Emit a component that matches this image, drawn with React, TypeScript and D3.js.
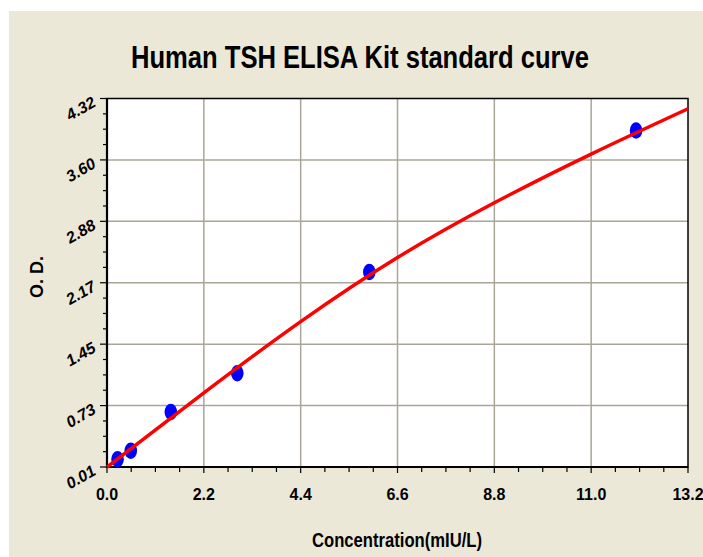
import { useEffect, useRef } from 'react';
import * as d3 from 'd3';

// standards
const concentrations = [0.24, 0.54, 1.45, 2.96, 5.96, 12.02];
const odValues = [0.1, 0.2, 0.654, 1.107, 2.29, 3.945];

// fitted curve, read at the vertical gridlines
const curveX = [0, 2.2, 4.4, 6.6, 8.8, 11.0, 13.2];
const curveY = [0.01, 0.877, 1.71, 2.46, 3.1, 3.67, 4.2];

const xTicks = [0, 2.2, 4.4, 6.6, 8.8, 11.0, 13.2];
const xTickLabels = ['0.0', '2.2', '4.4', '6.6', '8.8', '11.0', '13.2'];
const yTicks = [0.01, 0.7283, 1.4467, 2.165, 2.8833, 3.6017, 4.32];
const yTickLabels = ['0.01', '0.73', '1.45', '2.17', '2.88', '3.60', '4.32'];

const title = 'Human TSH ELISA Kit standard curve';
const xTitle = 'Concentration(mIU/L)';
const yTitle = 'O. D.';

const App = () => {
  const ref = useRef<SVGSVGElement>(null);

  useEffect(() => {
    const svg = d3.select(ref.current);
    svg.selectAll('*').remove();
    const narrow = "'Liberation Sans Narrow', 'Liberation Sans', Arial, sans-serif";
    const left = 107, right = 688, top = 98.5, bottom = 467;

    const x = d3.scaleLinear().domain([0, 13.2]).range([left, right]);
    const y = d3.scaleLinear().domain([0.01, 4.32]).range([bottom, top]);

    svg.append('rect').attr('x', 9).attr('y', 11).attr('width', 694).attr('height', 546).attr('fill', '#ece8d8');
    svg.append('rect').attr('x', left).attr('y', top).attr('width', right - left).attr('height', bottom - top).attr('fill', '#fff');

    // grid
    const g = svg.append('g');
    g.selectAll('line.gx').data(xTicks.slice(1, -1)).enter().append('line')
      .attr('x1', d => x(d)).attr('x2', d => x(d)).attr('y1', top).attr('y2', bottom)
      .attr('stroke', '#aaa696').attr('stroke-width', 1.5);
    g.selectAll('line.gy').data(yTicks.slice(1, -1)).enter().append('line')
      .attr('y1', d => y(d)).attr('y2', d => y(d)).attr('x1', left).attr('x2', right)
      .attr('stroke', '#aaa696').attr('stroke-width', 1.5);

    // minor ticks (4 subdivisions)
    const minor = (ticks: number[]) => {
      const out: number[] = [];
      for (let i = 0; i < ticks.length - 1; i++) {
        const s = (ticks[i + 1] - ticks[i]) / 4;
        for (let k = 1; k < 4; k++) out.push(ticks[i] + s * k);
      }
      return out;
    };
    g.selectAll('line.mx').data(minor(xTicks)).enter().append('line')
      .attr('x1', d => x(d)).attr('x2', d => x(d)).attr('y1', bottom).attr('y2', bottom + 5)
      .attr('stroke', '#000').attr('stroke-width', 1.2);
    g.selectAll('line.tx').data(xTicks).enter().append('line')
      .attr('x1', d => x(d)).attr('x2', d => x(d)).attr('y1', bottom).attr('y2', bottom + 6)
      .attr('stroke', '#000').attr('stroke-width', 1.2);
    g.selectAll('line.my').data(minor(yTicks)).enter().append('line')
      .attr('y1', d => y(d)).attr('y2', d => y(d)).attr('x1', left).attr('x2', left - 4)
      .attr('stroke', '#000').attr('stroke-width', 1.2);
    g.selectAll('line.ty').data(yTicks).enter().append('line')
      .attr('y1', d => y(d)).attr('y2', d => y(d)).attr('x1', left).attr('x2', left - 7)
      .attr('stroke', '#000').attr('stroke-width', 1.2);

    // frame
    svg.append('rect').attr('x', left).attr('y', top).attr('width', right - left).attr('height', bottom - top)
      .attr('fill', 'none').attr('stroke', '#000').attr('stroke-width', 1.5);
    svg.append('path').attr('d', `M${left},${top}V${bottom}H${right}`)
      .attr('fill', 'none').attr('stroke', '#000').attr('stroke-width', 2.2);

    // tick labels
    svg.selectAll('text.xl').data(xTicks).enter().append('text')
      .attr('x', d => x(d)).attr('y', 500).attr('text-anchor', 'middle')
      .style('font-family', narrow).style('font-weight', 'bold').style('font-size', '16px')
      .text((d, i) => xTickLabels[i]);
    svg.selectAll('text.yl').data(yTicks).enter().append('text')
      .attr('transform', d => `translate(97,${y(d) + 7}) rotate(-30)`).attr('text-anchor', 'end')
      .style('font-family', narrow).style('font-weight', 'bold').style('font-style', 'italic').style('font-size', '16px')
      .text((d, i) => yTickLabels[i]);

    // points then curve
    svg.selectAll('ellipse').data(concentrations).enter().append('ellipse')
      .attr('cx', d => x(d)).attr('cy', (d, i) => y(odValues[i])).attr('rx', 6.3).attr('ry', 8.2)
      .attr('fill', '#0000ff');
    const line = d3.line<number>().x(d => x(d)).y((d, i) => y(curveY[i])).curve(d3.curveNatural);
    svg.append('path').attr('d', line(curveX)).attr('fill', 'none').attr('stroke', '#ff0000').attr('stroke-width', 3.5);

    // titles
    svg.append('text').text(title).attr('x', 360).attr('y', 68).attr('text-anchor', 'middle')
      .attr('textLength', 458).attr('lengthAdjust', 'spacingAndGlyphs')
      .style('font-family', narrow).style('font-weight', 'bold').style('font-size', '31px');
    svg.append('text').text(xTitle).attr('x', 397).attr('y', 547).attr('text-anchor', 'middle')
      .attr('textLength', 170).attr('lengthAdjust', 'spacingAndGlyphs')
      .style('font-family', narrow).style('font-weight', 'bold').style('font-size', '21px');
    svg.append('text').text(yTitle).attr('transform', 'translate(43,277) rotate(-90)').attr('text-anchor', 'middle')
      .style('font-family', "'Liberation Sans', Arial, sans-serif").style('font-weight', 'bold').style('font-size', '18px');
  }, []);

  return (
    <svg ref={ref} width={703} height={557} style={{ position: 'absolute', left: 0, top: 0, background: '#fff' }} />
  );
};

export default App;
